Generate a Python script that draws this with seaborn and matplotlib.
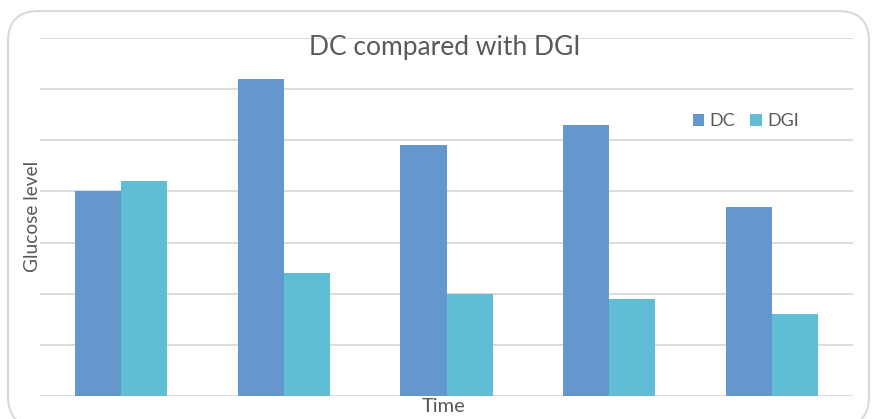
import matplotlib
matplotlib.use("Agg")
import matplotlib.pyplot as plt
from matplotlib.patches import FancyBboxPatch, Patch
import seaborn as sns
import pandas as pd

# Glucose readings per time point
times = ["T1", "T2", "T3", "T4", "T5"]
dc_values = [4.0, 6.2, 4.9, 5.3, 3.7]
dgi_values = [4.2, 2.4, 2.0, 1.9, 1.6]
series_names = ["DC", "DGI"]
palette = {"DC": "#6497CD", "DGI": "#5FBDD6"}

df = pd.DataFrame({
    "Time": times * 2,
    "Group": [series_names[0]] * len(times) + [series_names[1]] * len(times),
    "Glucose level": dc_values + dgi_values,
})

sns.set_style("white")
plt.rcParams["font.family"] = ["Lato", "DejaVu Sans"]
text_color = "#595959"
grid_color = "#D9D9D9"

W, H = 873, 419
fig = plt.figure(figsize=(W / 100, H / 100), dpi=100)

# rounded outer frame (open at the bottom edge of the canvas)
frame = FancyBboxPatch((8 / W, -8 / H), (869 - 8) / W, (H - 11 + 8) / H,
                       boxstyle="round,pad=0,rounding_size=0.035",
                       transform=fig.transFigure, facecolor="none",
                       edgecolor=grid_color, linewidth=1.5, zorder=-1,
                       mutation_aspect=W / H)
fig.patches.append(frame)

ax = fig.add_axes([40 / W, (H - 396) / H, (853 - 40) / W, (396 - 38) / H])
ax.set_facecolor("none")

sns.barplot(data=df, x="Time", y="Glucose level", hue="Group",
            hue_order=series_names, palette=palette, width=0.567, gap=0,
            saturation=1, ax=ax, legend=False, zorder=3, linewidth=0)

ax.set_ylim(0, 7)
ax.set_yticks(range(0, 8))
ax.set_xlim(-0.5, len(times) - 0.5)
ax.grid(axis="y", color=grid_color, linewidth=1.3, zorder=0)
ax.grid(axis="x", visible=False)
ax.set_axisbelow(True)
for s in ax.spines.values():
    s.set_visible(False)
ax.tick_params(length=0, labelbottom=False, labelleft=False)
ax.set_xlabel("")
ax.set_ylabel("")

fig.text(445 / W, 1 - 47 / H, "DC compared with DGI", ha="center", va="center",
         fontsize=19, color=text_color)
fig.text(32 / W, 1 - 216 / H, "Glucose level", ha="center", va="center",
         rotation=90, fontsize=13.8, color=text_color)
fig.text(444 / W, 1 - 406 / H, "Time", ha="center", va="center",
         fontsize=14.5, color=text_color)

handles = [Patch(facecolor=palette[n], edgecolor="none", label=n) for n in series_names]
leg = ax.legend(handles=handles, loc="center", bbox_to_anchor=(0.868, 0.768),
                ncol=2, frameon=False, fontsize=13, handlelength=0.65,
                handleheight=0.65, handletextpad=0.3, columnspacing=0.8)
for t in leg.get_texts():
    t.set_color(text_color)

fig.savefig("out.png", dpi=100)
